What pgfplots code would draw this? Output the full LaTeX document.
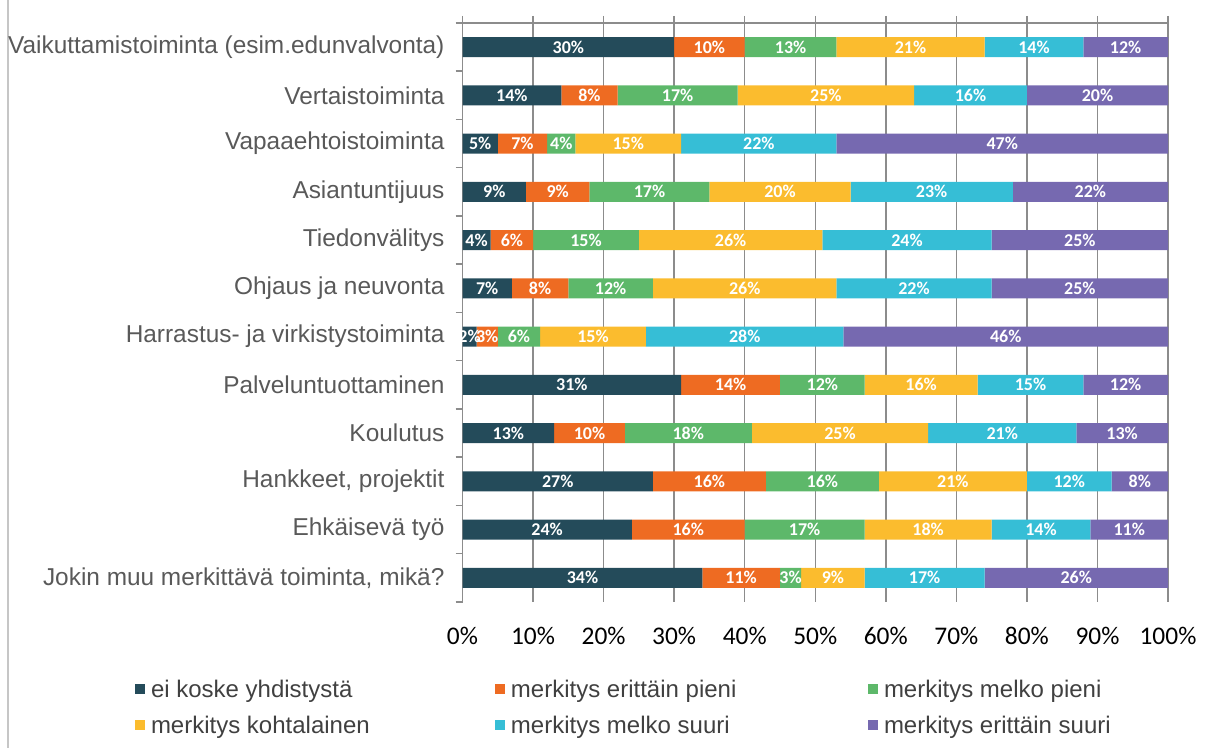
\documentclass[border=0pt]{standalone}
\usepackage{pgfplots}
\pgfplotsset{compat=1.18}
\usepackage{pgfplotstable}
\usepackage{fontspec}
\setmainfont{Liberation Sans}
\newfontfamily\carlito{Carlito}
\definecolor{c1}{HTML}{244B5A}
\definecolor{c2}{HTML}{EE6B22}
\definecolor{c3}{HTML}{5DB86A}
\definecolor{c4}{HTML}{FBBC2E}
\definecolor{c5}{HTML}{36BED6}
\definecolor{c6}{HTML}{7669B0}
\definecolor{gridgray}{HTML}{8C8C8C}
\definecolor{labgray}{HTML}{595959}
\definecolor{leggray}{HTML}{404040}

\pgfplotstableread{
idx a b c d e f
11 30 10 13 21 14 12
10 14 8 17 25 16 20
9 5 7 4 15 22 47
8 9 9 17 20 23 22
7 4 6 15 26 24 25
6 7 8 12 26 22 25
5 2 3 6 15 28 46
4 31 14 12 16 15 12
3 13 10 18 25 21 13
2 27 16 16 21 12 8
1 24 16 17 18 14 11
0 34 11 3 9 17 26
}\data

\begin{document}
\begin{tikzpicture}
\useasboundingbox (0,0) rectangle (610pt,374pt);
\draw[gray!45, line width=0.8pt] (4pt,0) -- (4pt,374pt);
\begin{axis}[
  at={(231.25pt,73pt)}, anchor=south west,
  scale only axis, width=352.75pt, height=289.5pt,
  xbar stacked, bar width=10pt,
  xmin=0, xmax=100, ymin=-0.5, ymax=11.5,
  axis line style={draw=none},
  tick align=outside, major tick length=3.5pt,
  tick style={gridgray, line width=0.75pt},
  xtick={0,10,...,100},
  xticklabels={0\%,10\%,20\%,30\%,40\%,50\%,60\%,70\%,80\%,90\%,100\%},
  xtick pos=right, xticklabel pos=left,
  xticklabel style={font=\carlito\fontsize{12.7pt}{14pt}\selectfont, text=black, anchor=center, yshift=-13.5pt},
  xmajorgrids, major grid style={gridgray, line width=0.75pt},
  ytick={-0.5,0.5,...,11.5}, yticklabels={},
  ytick pos=left,
  extra y ticks={0,1,...,11},
  extra y tick labels={{Jokin muu merkittävä toiminta, mikä?},{Ehkäisevä työ},{Hankkeet, projektit},{Koulutus},{Palveluntuottaminen},{Harrastus- ja virkistystoiminta},{Ohjaus ja neuvonta},{Tiedonvälitys},{Asiantuntijuus},{Vapaaehtoistoiminta},{Vertaistoiminta},{Vaikuttamistoiminta (esim.edunvalvonta)}},
  extra y tick style={major tick length=0pt, tick style={draw=none}},
  yticklabel style={font=\fontsize{12.2pt}{14pt}\selectfont, text=labgray, xshift=-5.5pt},
  point meta=explicit symbolic,
  nodes near coords={\pgfplotspointmeta\%},
  every node near coord/.append style={font=\carlito\bfseries\fontsize{9pt}{10pt}\selectfont, text=white, anchor=center},
  legend columns=3, legend cell align=left,
  legend image code/.code={\fill[#1] (0pt,-1.5pt) rectangle (5pt,3.5pt);},
  legend style={at={(axis description cs:-0.4642,-0.1226)}, anchor=north west, draw=none, fill=none, inner sep=0pt, outer sep=0pt, font=\fontsize{12pt}{14pt}\selectfont, text=leggray, /tikz/column sep=0pt, /tikz/row sep=0pt, nodes={inner xsep=3pt, inner ysep=3.25pt, text height=9pt, text depth=2.5pt}},
]
\addplot[fill=c1, draw=none] table[x=a, y=idx, meta=a] {\data};
\addlegendentry{\makebox[169pt][l]{ei koske yhdistystä}}
\addplot[fill=c2, draw=none] table[x=b, y=idx, meta=b] {\data};
\addlegendentry{\makebox[175.5pt][l]{merkitys erittäin pieni}}
\addplot[fill=c3, draw=none] table[x=c, y=idx, meta=c] {\data};
\addlegendentry{merkitys melko pieni}
\addplot[fill=c4, draw=none] table[x=d, y=idx, meta=d] {\data};
\addlegendentry{\makebox[169pt][l]{merkitys kohtalainen}}
\addplot[fill=c5, draw=none] table[x=e, y=idx, meta=e] {\data};
\addlegendentry{\makebox[175.5pt][l]{merkitys melko suuri}}
\addplot[fill=c6, draw=none] table[x=f, y=idx, meta=f] {\data};
\addlegendentry{merkitys erittäin suuri}
\draw[gridgray, line width=0.75pt] (axis cs:0,-0.5) -- (axis cs:0,11.5) -- (axis cs:100,11.5);
\end{axis}
\end{tikzpicture}
\end{document}
